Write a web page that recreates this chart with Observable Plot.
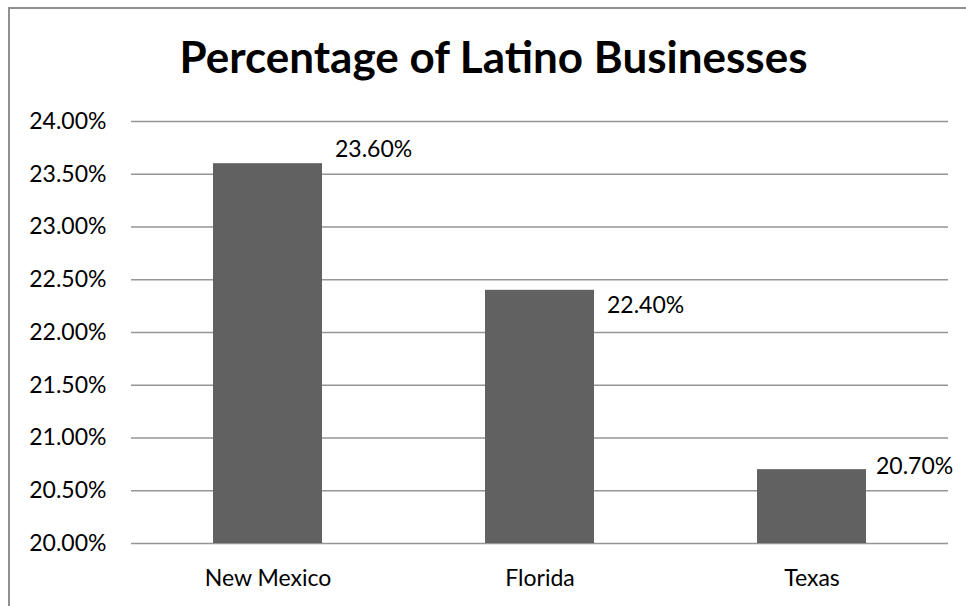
<!DOCTYPE html>
<html>
<head>
<meta charset="utf-8">
<script src="https://cdn.jsdelivr.net/npm/d3@7"></script>
<script src="https://cdn.jsdelivr.net/npm/@observablehq/plot@0.6"></script>
<style>
  html, body { margin: 0; padding: 0; background: #fff; }
  #wrap { position: relative; width: 966px; height: 606px; overflow: hidden; background: #fff; }
  #border { position: absolute; left: 8px; top: 7px; width: 980px; height: 640px; border: 2px solid #8f8f8f; box-sizing: border-box; }
  #title { position: absolute; left: 0; top: 34px; width: 987px; text-align: center; font-family: Lato, "Open Sans", sans-serif; font-weight: bold; font-size: 44px; line-height: 44px; color: #000; white-space: nowrap; }
  #chart { position: absolute; left: 0; top: 100px; }
</style>
</head>
<body>
<div id="wrap">
  <div id="border"></div>
  <div id="title">Percentage of Latino Businesses</div>
  <div id="chart"></div>
</div>
<script>
const states = ["New Mexico", "Florida", "Texas"];
const values = [23.6, 22.4, 20.7];
const yTicks = [20, 20.5, 21, 21.5, 22, 22.5, 23, 23.5, 24];

const data = states.map((s, i) => ({state: s, value: values[i]}));
const base = yTicks[0];
const labelDy = [-14, 15, -3.5];
const labelDx = [67, 67, 64];

const plot = Plot.plot({
  width: 966,
  height: 506,
  marginTop: 21,
  marginBottom: 63,
  marginLeft: 131,
  marginRight: 18,
  style: {fontFamily: "Lato, 'Open Sans', sans-serif", fontSize: "23px", color: "#000", background: "transparent", overflow: "visible"},
  x: {domain: states, paddingInner: 0.6, paddingOuter: 0.3, label: null},
  y: {domain: [yTicks[0], yTicks[yTicks.length - 1]], label: null},
  marks: [
    Plot.ruleY(yTicks, {stroke: "#959595", strokeWidth: 1.3}),
    Plot.barY(data, {x: "state", y1: () => base, y2: "value", fill: "#616161"}),
    Plot.axisY({ticks: yTicks, tickSize: 0, tickPadding: 25, tickFormat: d => d.toFixed(2) + "%", line: true, stroke: "#959595", strokeWidth: 1.3, fill: "#000", label: null}),
    Plot.axisX({tickSize: 0, tickPadding: 26, fill: "#000", label: null}),
    ...data.map((d, i) => Plot.text([d], {x: "state", y: "value", text: d => d.value.toFixed(2) + "%", textAnchor: "start", dx: labelDx[i], dy: labelDy[i], fill: "#000"}))
  ]
});
document.getElementById("chart").appendChild(plot);
</script>
</body>
</html>
